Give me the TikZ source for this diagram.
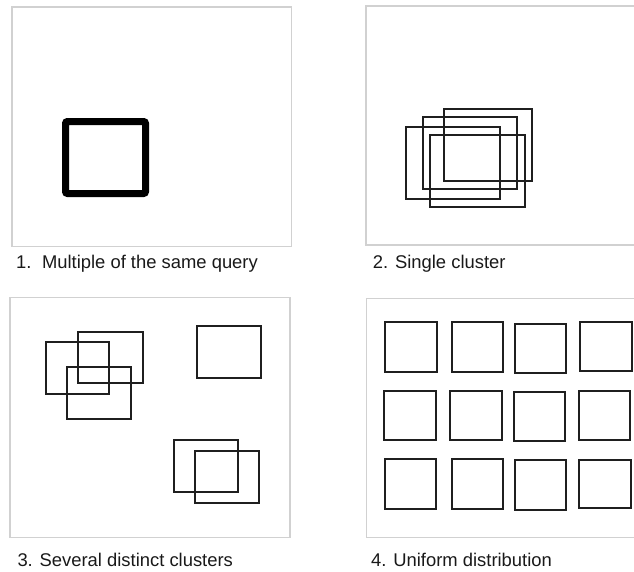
\documentclass[tikz,border=0pt]{standalone}
\usepackage{fontspec}
\setmainfont{Liberation Sans}
\begin{document}
\begin{tikzpicture}[x=1pt,y=-1pt,
  panel/.style={draw=black!18,line width=1.5pt},
  query/.style={draw=black!88,line width=2pt},
  heavy/.style={draw=black,line width=7pt,rounded corners=2pt},
  caption/.style={anchor=base west,inner sep=0pt,font=\fontsize{18.4}{22}\selectfont,text=black!90}]
\useasboundingbox (0,0) rectangle (634,571);

% panel frames
\draw[panel] (12,7) rectangle (291.5,246.5);
\draw[panel] (366,6) rectangle (640,245);
\draw[panel] (10,297.5) rectangle (290,537.5);
\draw[panel] (366.7,298.3) rectangle (640,537.7);

% 1: the same query repeated
\draw[heavy] (65.5,121.5) rectangle (145.5,193.5);

% 2: one cluster of overlapping queries
\draw[query] (406.3,126.7) rectangle (500.3,199);
\draw[query] (422.7,117.3) rectangle (516.7,188.7);
\draw[query] (443.7,109) rectangle (532.3,181);
\draw[query] (430,135) rectangle (524.7,206.7);

% 3: separate clusters
\draw[query] (45.7,342.3) rectangle (109.3,394);
\draw[query] (78.3,331.7) rectangle (142.7,383.3);
\draw[query] (67.3,367.3) rectangle (131,419);
\draw[query] (196.7,326) rectangle (260.7,377.7);
\draw[query] (174.3,440) rectangle (238.3,491.7);
\draw[query] (194.7,451) rectangle (258.7,502.7);

% 4: evenly spread grid
\draw[query] (385,322.3) rectangle (436.7,371.7);
\draw[query] (452,322.3) rectangle (503,371.7);
\draw[query] (515,324) rectangle (566.3,373);
\draw[query] (580,322.3) rectangle (631.7,370.7);
\draw[query] (384.3,391) rectangle (435.7,440);
\draw[query] (450.3,391) rectangle (502,440);
\draw[query] (514,392) rectangle (565,441);
\draw[query] (579,391) rectangle (630,440);
\draw[query] (384.7,459.3) rectangle (436.3,509);
\draw[query] (451.7,459.3) rectangle (502.7,509);
\draw[query] (514.7,460.3) rectangle (566.3,510);
\draw[query] (579.3,459.7) rectangle (630.7,508);

% captions
\node[caption] (cap1) at (16,268) {1.\hspace{10.5pt}Multiple of the same query};
\node[caption] (cap2) at (372.7,268) {2. Single cluster};
\node[caption] (cap3) at (17.3,566) {3. Several distinct clusters};
\node[caption] (cap4) at (371,566.5) {4. Uniform distribution};
\end{tikzpicture}
\end{document}
